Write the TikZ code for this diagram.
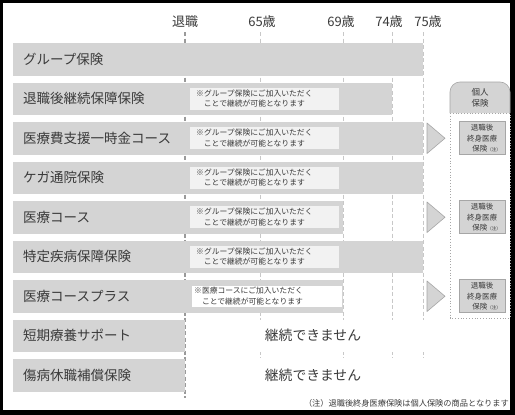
\documentclass[tikz,border=0pt]{standalone}
\usepackage{fontspec}
\setmainfont{Noto Sans CJK JP}
\usetikzlibrary{positioning}
\definecolor{barg}{HTML}{D4D4D4}
\definecolor{noteg}{HTML}{F2F2F2}
\definecolor{lineg}{HTML}{C8C8C8}
\definecolor{retg}{HTML}{9A9A9A}
\definecolor{inkg}{HTML}{3A3A3A}
\definecolor{edgeg}{HTML}{A6A6A6}
\tikzset{
  rowbar/.style  = {fill=barg, inner sep=0pt, minimum height=32.5pt, anchor=north west},
  rowlab/.style  = {font=\fontsize{13.5}{16}\selectfont, text=inkg, inner sep=0pt, anchor=west},
  hdr/.style     = {font=\fontsize{13}{15}\selectfont, text=inkg, inner sep=0pt},
  notebox/.style = {fill=noteg, inner sep=0pt, minimum width=149pt, minimum height=22pt,
                    anchor=north west},
  notebw/.style  = {notebox, fill=white, draw=barg, line width=0.5pt, minimum width=151pt},
  notetxt/.style = {font=\fontsize{7.8}{10.5}\selectfont, text=inkg, align=center,
                    inner sep=0pt, anchor=west},
  nocont/.style  = {fill=white, inner sep=0pt, minimum width=252pt, minimum height=32pt,
                    font=\fontsize{13.8}{16}\selectfont, text=inkg},
  agetick/.style = {draw=lineg, dashed, dash pattern=on 4pt off 2.5pt, line width=0.8pt},
  rettick/.style = {draw=retg, dashed, dash pattern=on 4pt off 2.5pt, line width=1.2pt},
  tri/.style     = {fill=barg, draw=edgeg, line width=0.6pt, line join=round},
  endbox/.style  = {fill=barg, draw=edgeg, line width=0.8pt, minimum width=46pt,
                    minimum height=33pt, inner sep=0pt, align=center, text=inkg,
                    font=\fontsize{7.5}{10.3}\selectfont},
  kojin/.style   = {font=\fontsize{8.5}{11}\selectfont, text=inkg, align=center, inner sep=0pt},
}

\begin{document}
\begin{tikzpicture}[x=1pt, y=-1pt]
  % frame
  \fill[black] (0,0) rectangle (515,415);
  \fill[white] (3,3) rectangle (510,410);
  \useasboundingbox (0,0) rectangle (515,415);

  % age marks
  \foreach \x/\t [count=\k] in {185/退職, 262/65歳, 341/69歳, 389/74歳, 428/75歳}
    \node[hdr] (age\k) at (\x,22) {\t};
  \foreach \x in {260,343,392,423}
    \draw[agetick] (\x,32) -- (\x,358);
  \draw[rettick] (185,32) -- (185,398);

  % rows
  \foreach \i/\e/\nm in {0/423/グループ保険, 1/392/退職後継続保障保険,
                         2/423/医療費支援一時金コース, 3/423/ケガ通院保険,
                         4/343/医療コース, 5/423/特定疾病保障保険,
                         6/343/医療コースプラス, 7/185/短期療養サポート,
                         8/185/傷病休職補償保険}{%
    \pgfmathsetmacro\yt{43+39.5*\i}
    \node[rowbar, minimum width={(\e-13)*1pt}] (bar\i) at (13,\yt) {};
    \node[rowlab] (lab\i) at (23,\yt+16.25) {\nm};}

  % notes
  \foreach \i in {1,...,5}{%
    \pgfmathsetmacro\yt{43+39.5*\i}
    \node[notebox] (note\i) at (190,\yt+5.25) {};
    \node[notetxt] (ntxt\i) at (196,\yt+16.25)
      {※グループ保険にご加入いただく\\ことで継続が可能となります};}
  \node[notebw] (note6) at (191,280+4.5) {};
  \node[notetxt] (ntxt6) at (194,280+16) {※医療コースにご加入いただく\\\hspace{1em}ことで継続が可能となります};

  \node[nocont] (stop7) at (313,319.5+16.25) {継続できません};
  \node[nocont] (stop8) at (313,359+16.25) {継続できません};

  % individual insurance
  \filldraw[fill=barg, draw=edgeg, line width=0.6pt, rounded corners=10pt]
    (450,113) -- (450,82) -- (510,82) -- (510,113);
  \node[kojin] (kojin) at (480,97.5) {個人\\保険};
  \draw[edgeg, dotted, line width=0.8pt] (450,113) rectangle (510,318);
  \foreach \i in {2,4,6}{%
    \pgfmathsetmacro\yt{43+39.5*\i}
    \filldraw[tri] (427,\yt+1) -- (445,\yt+16.25) -- (427,\yt+31.5) -- cycle;
    \node[endbox] (end\i) at (482,\yt+16.25)
      {退職後\\終身医療\\\hspace{1.2em}保険{\fontsize{4.5}{5}\selectfont（注）}};}

  \node[font=\fontsize{8.2}{10}\selectfont, text=inkg, anchor=east, inner sep=0pt] (fnote)
    at (509,403) {（注）退職後終身医療保険は個人保険の商品となります};
\end{tikzpicture}
\end{document}
